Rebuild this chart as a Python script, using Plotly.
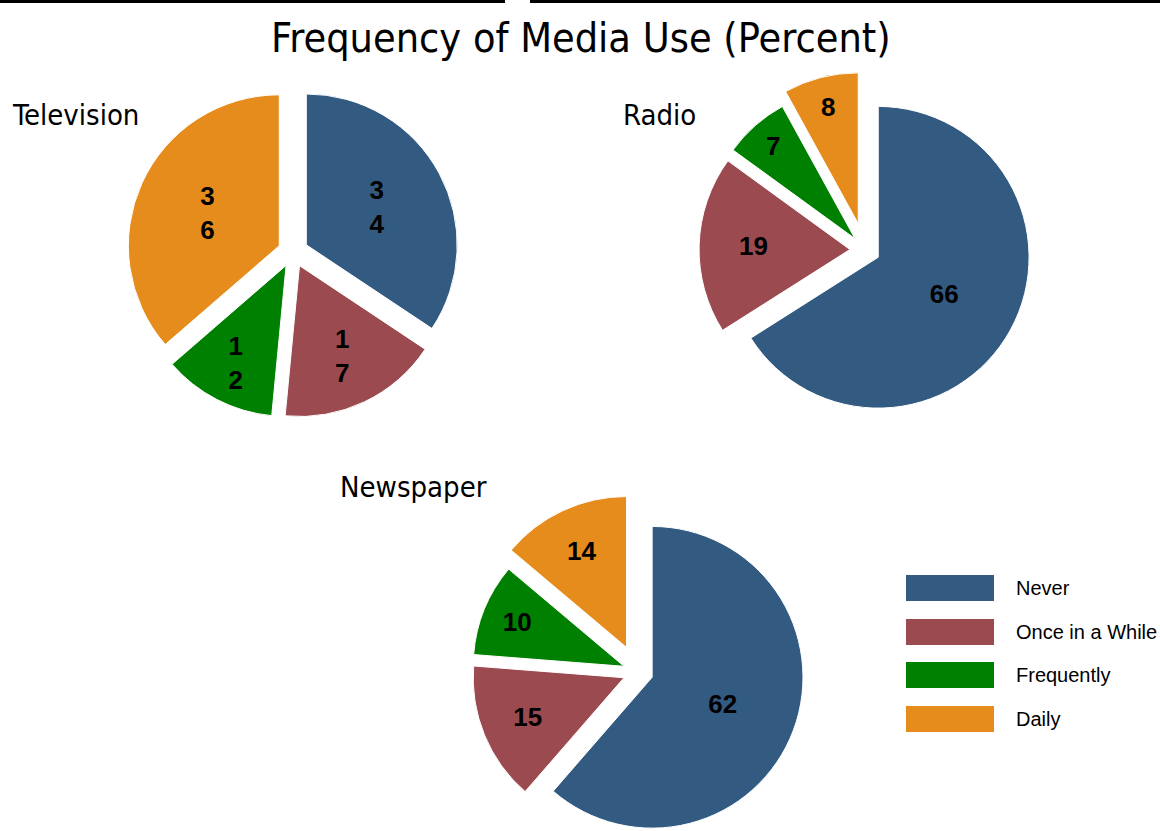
import plotly.graph_objects as go

# ---- data ----
categories = ["Never", "Once in a While", "Frequently", "Daily"]
tv_values = [34, 17, 12, 36]
radio_values = [66, 19, 7, 8]
news_values = [62, 15, 10, 14]
media = ["Television", "Radio", "Newspaper"]
colors = ["#335a80", "#9b4a50", "#008000", "#e68c1c"]

W, H = 1160, 860

def xd(a, b):
    return [a / W, b / W]

def yd(top, bottom):
    return [(H - bottom) / H, (H - top) / H]

def py(ypx):
    return (H - ypx) / H

label_font = dict(family="Liberation Sans, Arial, sans-serif", size=26, color="black", weight="bold")
narrow = "DejaVu Sans Condensed, Liberation Sans Narrow, Arial Narrow, sans-serif"

fig = go.Figure()

# Television (labels wrapped digit by digit, as in the reference)
tv_text = ["<br>".join(str(v)) for v in tv_values]
fig.add_trace(go.Pie(
    labels=categories, values=tv_values, text=tv_text, textinfo="text",
    sort=False, direction="clockwise", rotation=0,
    pull=[0.1, 0.1, 0.1, 0.1],
    marker=dict(colors=colors, line=dict(color="white", width=1)),
    textfont=label_font, insidetextorientation="horizontal",
    domain=dict(x=xd(127, 459), y=yd(86, 418)),
    showlegend=False, name=media[0],
))

fig.add_trace(go.Pie(
    labels=categories, values=radio_values, textinfo="value",
    sort=False, direction="clockwise", rotation=0,
    pull=[0.1, 0.1, 0.1, 0.18],
    marker=dict(colors=colors, line=dict(color="white", width=1)),
    textfont=label_font, insidetextorientation="horizontal",
    domain=dict(x=xd(687, 1043), y=yd(72, 428)),
    showlegend=False, name=media[1],
))

fig.add_trace(go.Pie(
    labels=categories, values=news_values, textinfo="value",
    sort=False, direction="clockwise", rotation=0,
    pull=[0.1, 0.1, 0.1, 0.18],
    marker=dict(colors=colors, line=dict(color="white", width=1)),
    textfont=label_font, insidetextorientation="horizontal",
    domain=dict(x=xd(460, 816), y=yd(494, 850)),
    showlegend=False, name=media[2],
))

annotations = []
# title
annotations.append(dict(
    text="Frequency of Media Use (Percent)", x=581 / W, y=py(38),
    xref="paper", yref="paper", xanchor="center", yanchor="middle",
    showarrow=False,
    font=dict(family=narrow, size=41, color="black"),
))
# subplot labels
sub_pos = [(10, 115), (621, 115), (338, 487)]
for name, (x0, y0) in zip(media, sub_pos):
    annotations.append(dict(
        text=name, x=x0 / W, y=py(y0), xref="paper", yref="paper",
        xanchor="left", yanchor="middle", showarrow=False,
        font=dict(family=narrow, size=29, color="black"),
    ))

# custom legend (wide swatches)
shapes = []
leg_y = [588, 632, 675, 719]
for cat, col, yc in zip(categories, colors, leg_y):
    shapes.append(dict(
        type="rect", xref="paper", yref="paper",
        x0=906 / W, x1=994 / W, y0=py(yc + 13), y1=py(yc - 13),
        fillcolor=col, line=dict(width=0),
    ))
    annotations.append(dict(
        text=cat, x=1014 / W, y=py(yc), xref="paper", yref="paper",
        xanchor="left", yanchor="middle", showarrow=False,
        font=dict(family="Liberation Sans, Arial, sans-serif", size=20, color="black"),
    ))

# thin black rule at the very top (cropped frame edge)
shapes.append(dict(type="rect", xref="paper", yref="paper",
                   x0=0, x1=505 / W, y0=py(3), y1=1,
                   fillcolor="black", line=dict(width=0)))
shapes.append(dict(type="rect", xref="paper", yref="paper",
                   x0=530 / W, x1=1, y0=py(3), y1=1,
                   fillcolor="black", line=dict(width=0)))

fig.update_layout(
    width=W, height=H,
    margin=dict(l=0, r=0, t=0, b=0),
    paper_bgcolor="white", plot_bgcolor="white",
    annotations=annotations, shapes=shapes,
    showlegend=False,
)

fig.write_html(
    "out.html",
    config={"displayModeBar": False},
    post_script="document.body.style.margin='0';document.body.style.overflow='hidden';document.documentElement.style.overflow='hidden';",
)
